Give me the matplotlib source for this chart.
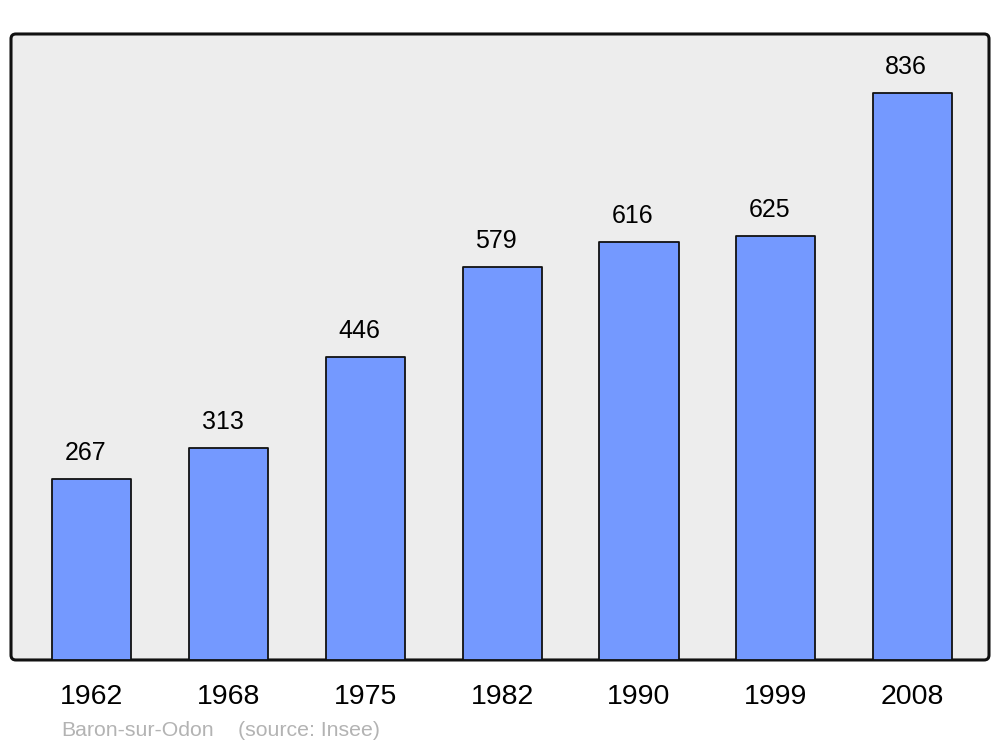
import matplotlib
matplotlib.use("Agg")
import matplotlib.pyplot as plt
from matplotlib.patches import FancyBboxPatch

years = ["1962", "1968", "1975", "1982", "1990", "1999", "2008"]
population = [267, 313, 446, 579, 616, 625, 836]
place = "Baron-sur-Odon"
source = "(source: Insee)"

plt.rcParams['font.family'] = ['Liberation Sans', 'DejaVu Sans']

fig = plt.figure(figsize=(10, 7.47), dpi=100)
ax = fig.add_axes([0.011, 0.1165, 0.978, 0.838])
ax.patch.set_visible(False)
for s in ax.spines.values():
    s.set_visible(False)

# rounded frame background
frame = FancyBboxPatch((0, 0), 1, 1, boxstyle="round,pad=0,rounding_size=0.005",
                       transform=ax.transAxes, facecolor="#ededed",
                       edgecolor="#111111", linewidth=2.2, zorder=0, clip_on=False,
                       mutation_aspect=0.978 * 1000 / (0.838 * 747))
ax.add_patch(frame)

x = list(range(len(years)))
bars = ax.bar(x, population, width=0.578, color="#7499ff", edgecolor="#111111",
              linewidth=1.3, zorder=2)
for b in bars:
    b.set_joinstyle('round')

for xi, v in zip(x, population):
    ax.annotate(str(v), (xi, v), xytext=(-4.5, 18.8), textcoords="offset points",
                ha="center", va="center", fontsize=18, color="#000000")

ax.set_xlim(-0.592, 6.559)
ax.set_ylim(0, 923)
ax.set_xticks(x)
ax.set_xticklabels(years, fontsize=20.5)
ax.tick_params(axis='x', length=0, pad=17.5)
ax.set_yticks([])

fig.text(0.061, 1 - 730 / 747, place, fontsize=15.3,
         color="#b3b3b3", ha="left", va="center")
fig.text(0.238, 1 - 730 / 747, source, fontsize=15.3,
         color="#b3b3b3", ha="left", va="center")

fig.savefig("out.png", dpi=100)
